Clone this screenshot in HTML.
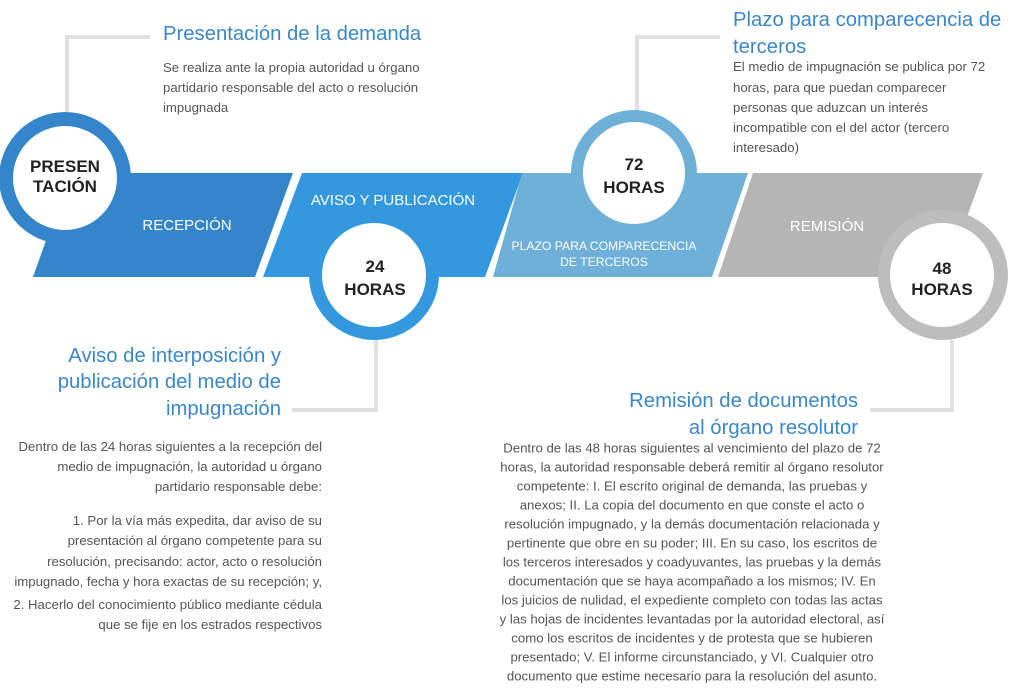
<!DOCTYPE html>
<html><head><meta charset="utf-8"><style>
html,body{margin:0;padding:0;background:#fff;width:1024px;height:694px;overflow:hidden}
svg{display:block;font-family:"Liberation Sans",Arial,sans-serif}
.t{fill:#3A87C8;font-size:20.3px}
.b{fill:#555;font-size:13.2px}
.w{fill:#fff;font-size:15px}
.c{fill:#222;font-size:17px;font-weight:bold}
</style></head><body>
<svg width="1024" height="694" viewBox="0 0 1024 694">
<g stroke="#E0E0E0" stroke-width="4" fill="none">
<polyline points="67,112 67,37 150,37"/>
<polyline points="637,112 637,37 720,37"/>
<polyline points="376,340 376,410 292,410"/>
<polyline points="952,340 952,410 870,410"/>
</g>
<polygon points="70,173 293,173 255,277 33,277" fill="#3585CA"/>
<polygon points="302,173 523,173 485,277 263,277" fill="#3498DF"/>
<polygon points="522,173 748,173 712,277 493,277" fill="#6FB0D9"/>
<polygon points="753,173 983,173 945,277 718,277" fill="#B5B5B5"/>
<circle cx="65" cy="178" r="66" fill="#3585CA"/><circle cx="65" cy="178" r="52" fill="#fff"/>
<circle cx="374" cy="275" r="65" fill="#3498DF"/><circle cx="374" cy="275" r="52" fill="#fff"/>
<circle cx="634" cy="173" r="63" fill="#6FB0D9"/><circle cx="634" cy="173" r="51" fill="#fff"/>
<circle cx="943" cy="275" r="65" fill="#BDBDBD"/><circle cx="942" cy="275" r="52" fill="#fff"/>
<g class="c" text-anchor="middle">
<text x="65" y="172">PRESEN</text><text x="65" y="192">TACIÓN</text>
<text x="375" y="272">24</text><text x="375" y="295">HORAS</text>
<text x="634" y="170">72</text><text x="634" y="193">HORAS</text>
<text x="942" y="274">48</text><text x="942" y="295">HORAS</text>
</g>
<g class="w" text-anchor="middle">
<text x="187" y="230">RECEPCIÓN</text>
<text x="393" y="205">AVISO Y PUBLICACIÓN</text>
<text x="604" y="250" style="font-size:12.2px">PLAZO PARA COMPARECENCIA</text>
<text x="604" y="266" style="font-size:12.2px">DE TERCEROS</text>
<text x="827" y="231">REMISIÓN</text>
</g>
<text class="t" x="163" y="40">Presentación de la demanda</text>
<g class="b">
<text x="163" y="72">Se realiza ante la propia autoridad u órgano</text>
<text x="163" y="92">partidario responsable del acto o resolución</text>
<text x="163" y="112">impugnada</text>
</g>
<text class="t" x="733" y="26">Plazo para comparecencia de</text>
<text class="t" x="733" y="53">terceros</text>
<g class="b">
<text x="733" y="71">El medio de impugnación se publica por 72</text>
<text x="733" y="92">horas, para que puedan comparecer</text>
<text x="733" y="112">personas que aduzcan un interés</text>
<text x="733" y="132">incompatible con el del actor (tercero</text>
<text x="733" y="152">interesado)</text>
</g>
<g class="t" text-anchor="end">
<text x="281" y="362">Aviso de interposición y</text>
<text x="281" y="388">publicación del medio de</text>
<text x="281" y="415">impugnación</text>
</g>
<g class="b" text-anchor="end">
<text x="322" y="451">Dentro de las 24 horas siguientes a la recepción del</text>
<text x="322" y="471">medio de impugnación, la autoridad u órgano</text>
<text x="322" y="491">partidario responsable debe:</text>
<text x="322" y="525">1. Por la vía más expedita, dar aviso de su</text>
<text x="322" y="545">presentación al órgano competente para su</text>
<text x="322" y="566">resolución, precisando: actor, acto o resolución</text>
<text x="322" y="586">impugnado, fecha y hora exactas de su recepción; y,</text>
<text x="322" y="609">2. Hacerlo del conocimiento público mediante cédula</text>
<text x="322" y="629">que se fije en los estrados respectivos</text>
</g>
<g class="t" text-anchor="end">
<text x="858" y="407">Remisión de documentos</text>
<text x="858" y="434">al órgano resolutor</text>
</g>
<g class="b" text-anchor="middle">
<text x="692" y="452.5">Dentro de las 48 horas siguientes al vencimiento del plazo de 72</text>
<text x="692" y="471.5">horas, la autoridad responsable deberá remitir al órgano resolutor</text>
<text x="692" y="490.5">competente: I. El escrito original de demanda, las pruebas y</text>
<text x="692" y="509.5">anexos; II. La copia del documento en que conste el acto o</text>
<text x="692" y="528.5">resolución impugnado, y la demás documentación relacionada y</text>
<text x="692" y="547.5">pertinente que obre en su poder; III. En su caso, los escritos de</text>
<text x="692" y="566.5">los terceros interesados y coadyuvantes, las pruebas y la demás</text>
<text x="692" y="585.5">documentación que se haya acompañado a los mismos; IV. En</text>
<text x="692" y="604.5">los juicios de nulidad, el expediente completo con todas las actas</text>
<text x="692" y="623.5">y las hojas de incidentes levantadas por la autoridad electoral, así</text>
<text x="692" y="642.5">como los escritos de incidentes y de protesta que se hubieren</text>
<text x="692" y="661.5">presentado; V. El informe circunstanciado, y VI. Cualquier otro</text>
<text x="692" y="680.5">documento que estime necesario para la resolución del asunto.</text>
</g>
</svg>
</body></html>
